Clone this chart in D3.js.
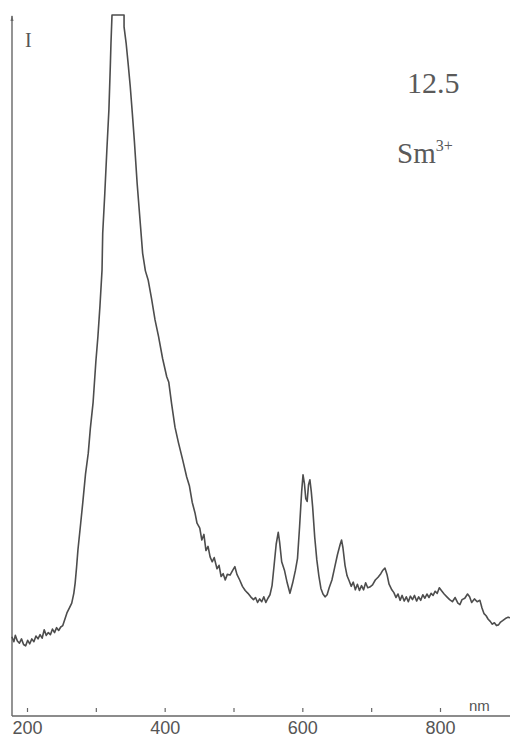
<!DOCTYPE html>
<html>
<head>
<meta charset="utf-8">
<script src="https://cdn.jsdelivr.net/npm/d3@7"></script>
<style>
  html, body { margin: 0; padding: 0; background: #fff; }
  svg { display: block; }
</style>
</head>
<body>
<svg id="chart" width="510" height="739"></svg>
<script>
// Emission spectrum of Sm3+ : wavelength (nm) and relative intensity (saturated at 100)
const wavelength = [
  178,181,183,186,189,192,195,198,201,204,207,210,213,216,219,222,225,228,231,234,
  237,240,243,246,249,252,255,258,262,265,268,270,272,274,278,281,285,289,292,296,
  300,303,306,309,310,313,316,319,321,322,323.5,341,341,344,347,350,353,356,360,364,
  368,372,376,381,386,391,397,403,406,410,415,420,426,432,436,440,444,447,451,454,
  457,460,463,466,469,472,476,479,482,485,488,491,495,499,502,505,509,513,517,521,
  525,529,532,535,538,541,544,547,550,553,556,559,562,565,567,570,574,578,582,586,
  590,593,596,599,601,603,605,607,609,611,613,615,618,621,624,627,630,633,636,639,
  643,647,651,655,657,659,662,665,668,671,674,677,680,683,686,689,692,695,698,702,
  706,710,714,717,720,723,726,730,733,736,739,742,745,748,751,754,757,760,763,766,
  769,772,775,778,781,784,787,790,793,796,799,802,806,810,814,818,822,826,829,832,
  836,840,843,846,850,854,858,861,864,867,870,873,876,879,882,885,888,891,895,899,902
];
const intensity = [
  11.3,10.6,11.5,10.7,10.4,11.0,10.2,10.0,10.8,10.3,11.0,10.6,11.4,11.0,11.6,11.1,12.3,11.5,11.9,11.6,
  12.4,11.9,12.6,12.2,12.7,12.9,13.8,14.7,15.5,16.1,17.5,19.0,21.2,23.7,27.5,30.4,34.5,37.5,41.0,44.7,
  50.5,54.1,58.5,63.6,68.9,74.5,80.7,86.5,92.6,96.0,100,100,98.3,96.0,93.0,89.8,86.0,82.0,76.0,71.0,
  66.0,63.5,62.2,59.5,56.5,54.2,51.0,48.4,47.6,44.6,41.2,39.0,36.6,34.1,32.8,30.5,29.0,27.5,26.8,25.1,
  25.9,23.6,24.2,22.7,22.0,22.6,21.0,21.5,19.9,20.3,19.4,20.2,20.1,20.8,21.3,20.2,19.4,18.5,17.9,17.5,
  17.0,16.6,16.9,16.2,16.7,16.3,17.0,16.2,16.8,17.3,18.6,21.5,24.5,26.2,24.8,22.0,20.8,19.0,17.5,19.0,
  20.8,22.5,27.0,32.0,34.4,33.2,31.0,30.6,33.0,33.7,32.0,29.8,25.5,22.3,20.0,18.2,17.4,17.0,17.3,18.3,
  19.4,21.2,23.0,24.5,25.1,24.0,21.5,20.0,19.3,18.5,19.1,18.0,18.8,17.9,18.6,18.0,19.0,18.3,18.4,18.7,
  19.4,19.8,20.3,20.8,21.1,20.2,18.8,18.0,17.6,16.9,17.4,16.5,17.2,16.4,17.0,16.3,17.1,16.6,17.2,16.4,
  17.0,16.5,17.3,16.8,17.4,16.9,17.5,17.2,17.8,17.5,18.3,17.9,17.4,17.0,16.6,16.3,16.9,16.1,15.9,16.6,
  16.8,17.4,17.0,16.2,16.7,16.3,16.5,15.4,14.6,14.3,13.8,13.5,13.1,13.3,12.9,13.0,13.4,13.6,13.9,14.1,14.0
];
const tickValues = [200, 300, 400, 500, 600, 700, 800];
const tickLabels = ["200", "400", "600", "800"];

const svg = d3.select("#chart");
const ink = "#4d4d4d";

const x = d3.scaleLinear().domain([200, 800]).range([27, 440]);
const y = d3.scaleLinear().domain([0, 100]).range([716, 15]);

const points = wavelength.map((w, i) => ({ w, v: intensity[i] }));

// Frame: left (intensity) axis and bottom (wavelength) axis
svg.append("line")
  .attr("x1", 12).attr("x2", 12).attr("y1", 16).attr("y2", 716)
  .attr("stroke", "#666").attr("stroke-width", 1.4);
svg.append("path")
  .attr("d", "M10.5,21 L12,15 L13.5,21 Z")
  .attr("fill", "#666");

const xAxis = d3.axisBottom(x)
  .tickValues(tickValues)
  .tickSize(0)
  .tickFormat(d => tickLabels.includes(String(d)) ? String(d) : "");

const gx = svg.append("g")
  .attr("transform", "translate(0,716)")
  .call(xAxis);
gx.select(".domain").remove();
gx.selectAll(".tick line")
  .attr("y1", -8).attr("y2", -4)
  .attr("stroke", "#666").attr("stroke-width", 1.2);
gx.selectAll(".tick text")
  .attr("y", 18)
  .attr("dy", 0)
  .attr("fill", "#555")
  .style("font-family", "'Liberation Sans', Arial, sans-serif")
  .style("font-size", "18px");

svg.append("line")
  .attr("x1", 12).attr("x2", 510).attr("y1", 716).attr("y2", 716)
  .attr("stroke", "#666").attr("stroke-width", 1.4);

svg.append("text")
  .attr("x", 469).attr("y", 711)
  .attr("fill", "#555")
  .style("font-family", "'Liberation Sans', Arial, sans-serif")
  .style("font-size", "15px")
  .text("nm");

// Axis name
svg.append("text")
  .attr("x", 25).attr("y", 47)
  .attr("fill", "#555")
  .style("font-family", "'Liberation Serif', 'Times New Roman', serif")
  .style("font-size", "20px")
  .text("I");

// Spectrum trace
svg.append("path")
  .datum(points)
  .attr("fill", "none")
  .attr("stroke", ink)
  .attr("stroke-width", 1.6)
  .attr("stroke-linejoin", "round")
  .attr("d", d3.line().x(d => x(d.w)).y(d => y(d.v)));

// Annotations
const serif = "'Liberation Serif', 'Times New Roman', serif";
svg.append("text")
  .attr("x", 407).attr("y", 93)
  .attr("fill", "#5a5a5a")
  .style("font-family", serif)
  .style("font-size", "30px")
  .text("12.5");

const ion = svg.append("text")
  .attr("x", 397).attr("y", 163)
  .attr("fill", "#5a5a5a")
  .style("font-family", serif)
  .style("font-size", "29px");
ion.append("tspan").text("Sm");
ion.append("tspan")
  .attr("dy", -12)
  .style("font-size", "16px")
  .text("3+");
</script>
</body>
</html>
